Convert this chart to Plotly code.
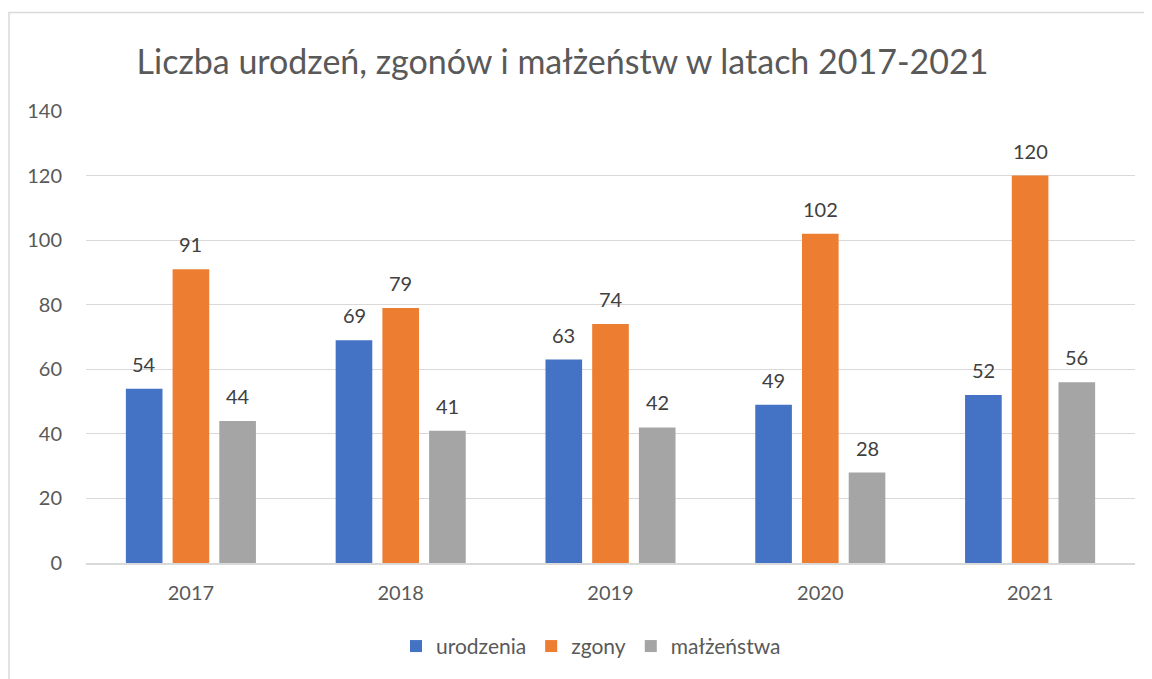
import plotly.graph_objects as go

years = ["2017", "2018", "2019", "2020", "2021"]
urodzenia = [54, 69, 63, 49, 52]
zgony = [91, 79, 74, 102, 120]
malzenstwa = [44, 41, 42, 28, 56]
series_names = ["urodzenia", "zgony", "małżeństwa"]
colors = ["#4472C4", "#ED7D31", "#A5A5A5"]
y_ticks = [0, 20, 40, 60, 80, 100, 120, 140]

FONT = "Lato, Carlito, 'Open Sans', sans-serif"
OFF = 8  # page body margin
W, H = 1152 - OFF, 679 - OFF
L = 86 - OFF
T = 111 - OFF
R = W - (1135 - OFF)
B = H - (563.5 - OFF)
pw = W - L - R
ph = H - T - B

all_series = [urodzenia, zgony, malzenstwa]

fig = go.Figure()
for name, vals, col in zip(series_names, all_series, colors):
    fig.add_trace(go.Bar(
        x=years, y=vals, name=name, marker=dict(color=col, line=dict(width=0)),
    ))

annotations = []
slot = 46.7
for i, vals in enumerate(all_series):
    for j, v in enumerate(vals):
        annotations.append(dict(
            x=j, y=v, xref="x", yref="y", text=str(v), showarrow=False,
            xanchor="center", yanchor="middle", xshift=(i - 1) * slot, yshift=25,
            font=dict(size=20, color="#404040", family=FONT),
        ))

fig.update_layout(
    width=W, height=H,
    margin=dict(l=L, r=R, t=T, b=B, autoexpand=False),
    paper_bgcolor="white", plot_bgcolor="white",
    barmode="group", bargap=0.332, bargroupgap=0.216,
    title=dict(text="Liczba urodzeń, zgonów i małżeństw w latach 2017-2021",
               x=(562.5 - OFF) / W, xanchor="center", y=1 - (62 - OFF) / H, yanchor="middle",
               font=dict(size=34, color="#595959", family=FONT)),
    font=dict(family=FONT, color="#595959"),
    xaxis=dict(type="category", range=[-0.5, len(years) - 0.5], showgrid=False,
               showline=True, linecolor="#D9D9D9", linewidth=1.8,
               tickfont=dict(size=20, color="#595959"), ticks="", ticklabelstandoff=11),
    yaxis=dict(range=[0, 140], tickvals=y_ticks, showgrid=True, gridcolor="#D9D9D9",
               gridwidth=1.3, zeroline=False, showline=False, ticks="",
               tickfont=dict(size=20, color="#595959"), ticklabelstandoff=23),
    legend=dict(orientation="h", x=((591 - OFF) - L) / pw,
                xanchor="center", y=-((647 - OFF) - (H - B)) / ph, yanchor="middle",
                font=dict(size=21, color="#595959"), itemwidth=30, traceorder="normal"),
    annotations=annotations,
    shapes=[dict(type="path", xref="paper", yref="paper",
                 path=f"M {(9 - OFF - L) / pw} {-(H + 20 - (H - B)) / ph} "
                      f"L {(9 - OFF - L) / pw} {(H - B - (12.5 - OFF)) / ph} "
                      f"L {(W + 20 - L) / pw} {(H - B - (12.5 - OFF)) / ph}",
                 line=dict(color="#D9D9D9", width=1.5))],
)
fig.write_html("out.html")
